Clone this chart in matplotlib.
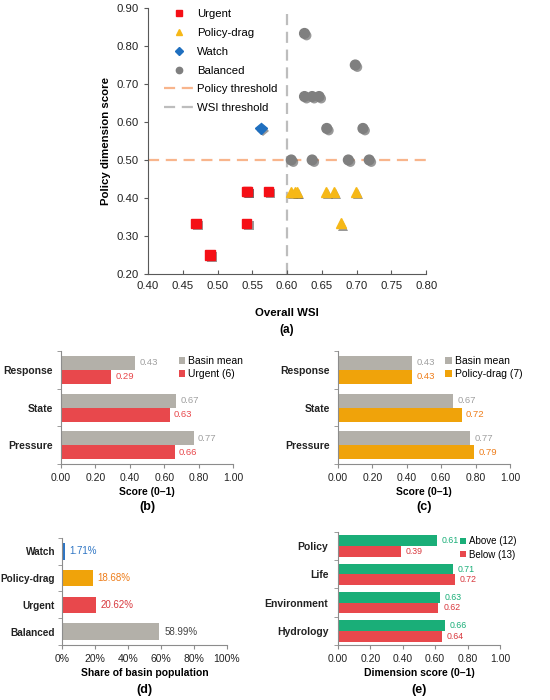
import matplotlib
matplotlib.use("Agg")
import matplotlib.pyplot as plt
import matplotlib.patheffects as pe
from matplotlib.ticker import FixedLocator, PercentFormatter
import numpy as np

plt.rcParams['font.family'] = ['Liberation Sans', 'DejaVu Sans']

# (a) scatter: overall WSI vs policy dimension score
urgent_x = [0.469, 0.489, 0.542, 0.542, 0.543, 0.573]
urgent_y = [0.333, 0.250, 0.333, 0.417, 0.417, 0.417]
drag_x = [0.605, 0.612, 0.614, 0.656, 0.667, 0.699, 0.677]
drag_y = [0.417, 0.417, 0.417, 0.417, 0.417, 0.417, 0.333]
watch_x = [0.562]
watch_y = [0.583]
bal_x = [0.625, 0.698, 0.625, 0.636, 0.646, 0.657, 0.709, 0.606, 0.636, 0.688, 0.718]
bal_y = [0.833, 0.750, 0.667, 0.667, 0.667, 0.583, 0.583, 0.500, 0.500, 0.500, 0.500]
policy_thr = 0.5
wsi_thr = 0.6

# (b), (c) PSR dimensions
psr_cats = ["Pressure", "State", "Response"]
basin_mean = [0.77, 0.67, 0.43]
urgent_psr = [0.66, 0.63, 0.29]
drag_psr = [0.79, 0.72, 0.43]

# (d) population share
pop_cats = ["Balanced", "Urgent", "Policy-drag", "Watch"]
pop_share = [58.99, 20.62, 18.68, 1.71]

# (e) dimensions above / below policy threshold
dim_cats = ["Hydrology", "Environment", "Life", "Policy"]
above = [0.66, 0.63, 0.71, 0.61]
below = [0.64, 0.62, 0.72, 0.39]

RED = "#e8484c"
ORANGE = "#f0a30a"
GREY_BAR = "#b3b0a9"
GREEN = "#1aae78"
BLUE = "#2e75c4"
AXC = "#8c8c8c"

fig = plt.figure(figsize=(5.5, 7), dpi=100)

def style_axes(ax, col=AXC):
    for s in ["top", "right"]:
        ax.spines[s].set_visible(False)
    for s in ["left", "bottom"]:
        ax.spines[s].set_color(col)
        ax.spines[s].set_linewidth(0.8)
    ax.tick_params(colors=col, labelcolor="#222222", length=3, width=0.8)

shadow = [pe.SimplePatchShadow(offset=(1.5, -1.5), shadow_rgbFace="#555555", alpha=0.6), pe.Normal()]

# ---- (a)
ax = fig.add_axes([0.269, 0.6086, 0.506, 0.38])
style_axes(ax, "#595959")
ax.axhline(policy_thr, color="#f8b58c", ls=(0, (5, 3)), lw=1.6, zorder=1, label="Policy threshold")
ax.axvline(wsi_thr, color="#bdbdbd", ls=(0, (5, 3)), lw=1.6, zorder=1, label="WSI threshold")
ax.plot(urgent_x, urgent_y, ls="none", marker="s", ms=6.8, color="#f50f16", label="Urgent", path_effects=shadow, zorder=3)
ax.plot(drag_x, drag_y, ls="none", marker="^", ms=7.2, color="#f6b817", label="Policy-drag", path_effects=shadow, zorder=3)
ax.plot(watch_x, watch_y, ls="none", marker="D", ms=6, color="#1f6fbf", label="Watch", path_effects=shadow, zorder=3)
ax.plot(bal_x, bal_y, ls="none", marker="o", ms=7, color="#7f7f7f", label="Balanced", path_effects=shadow, zorder=3)
ax.set_xlim(0.40, 0.80)
ax.set_ylim(0.20, 0.90)
ax.set_xticks(np.arange(0.40, 0.801, 0.05))
ax.set_yticks(np.arange(0.20, 0.901, 0.10))
ax.xaxis.set_major_formatter(lambda v, p: f"{v:.2f}")
ax.yaxis.set_major_formatter(lambda v, p: f"{v:.2f}")
ax.tick_params(labelsize=8.2)
ax.tick_params(axis="x", direction="in", pad=5)
ax.set_xlabel("Overall WSI", fontsize=8.2, fontweight="bold", labelpad=12)
ax.set_ylabel("Policy dimension score", fontsize=8.2, fontweight="bold")
h, l = ax.get_legend_handles_labels()
order = [2, 3, 4, 5, 0, 1]
leg = ax.legend([h[i] for i in order], [l[i] for i in order], loc="upper left",
                bbox_to_anchor=(0.02, 1.035), frameon=False, fontsize=8.2, markerscale=0.65,
                handlelength=2.6, handletextpad=0.3, labelspacing=0.78)
for lh in leg.legend_handles:
    lh.set_path_effects([])
ax.text(0.5, -0.21, "(a)", transform=ax.transAxes, ha="center", va="center", fontsize=8.5, fontweight="bold")

# ---- (b), (c)
def psr_panel(rect, grp_vals, grp_color, grp_label, lab_color, tag, leg_x):
    ax = fig.add_axes(rect)
    style_axes(ax)
    y = np.arange(len(psr_cats))
    hgt = 0.37
    ax.barh(y + hgt / 2, basin_mean, height=hgt, color=GREY_BAR, label="Basin mean")
    ax.barh(y - hgt / 2, grp_vals, height=hgt, color=grp_color, label=grp_label)
    for yi, v in zip(y, basin_mean):
        ax.text(v + 0.025, yi + hgt / 2, f"{v:.2f}", va="center", fontsize=6.8, color="#a0a0a0")
    for yi, v in zip(y, grp_vals):
        ax.text(v + 0.025, yi - hgt / 2, f"{v:.2f}", va="center", fontsize=6.8, color=lab_color)
    ax.set_ylim(-0.5, 2.5)
    ax.set_xlim(0, 1.0)
    ax.set_yticks(y)
    ax.set_yticklabels(psr_cats, fontsize=7.5, fontweight="bold", color="#222222")
    ax.yaxis.set_minor_locator(FixedLocator(np.arange(-0.5, 2.6, 1.0)))
    ax.tick_params(axis="y", which="major", length=0, pad=6)
    ax.tick_params(axis="y", which="minor", length=3, color=AXC)
    ax.set_xticks(np.arange(0, 1.01, 0.2))
    ax.xaxis.set_major_formatter(lambda v, p: f"{v:.2f}")
    ax.tick_params(axis="x", labelsize=7.5)
    ax.set_xlabel("Score (0\u20131)", fontsize=7.5, fontweight="bold", labelpad=3)
    ax.legend(loc="upper left", bbox_to_anchor=(leg_x, 1.04), frameon=False, fontsize=7.5,
              handlelength=0.6, handleheight=0.6, handletextpad=0.3, labelspacing=0.3)
    ax.text(0.5, -0.38, tag, transform=ax.transAxes, ha="center", va="center", fontsize=9, fontweight="bold")
    return ax

psr_panel([0.111, 0.337, 0.313, 0.1614], urgent_psr, RED, "Urgent (6)", RED, "(b)", 0.63)
psr_panel([0.6145, 0.337, 0.3127, 0.1614], drag_psr, ORANGE, "Policy-drag (7)", "#ee7d1a", "(c)", 0.57)

# ---- (d)
ax = fig.add_axes([0.1127, 0.0786, 0.30, 0.153])
style_axes(ax)
y = np.arange(len(pop_cats))
bar_cols = [GREY_BAR, RED, ORANGE, BLUE]
lab_cols = ["#444444", "#d8383d", "#ee7d1a", BLUE]
ax.barh(y, pop_share, height=0.62, color=bar_cols)
for yi, v, c in zip(y, pop_share, lab_cols):
    ax.text(v + 3, yi, f"{v:.2f}%", va="center", fontsize=7, color=c)
ax.set_ylim(-0.5, 3.5)
ax.set_xlim(0, 100)
ax.set_yticks(y)
ax.set_yticklabels(pop_cats, fontsize=7.2, fontweight="bold", color="#222222")
ax.yaxis.set_minor_locator(FixedLocator(np.arange(-0.5, 3.6, 1.0)))
ax.tick_params(axis="y", which="major", length=0, pad=5)
ax.tick_params(axis="y", which="minor", length=3, color=AXC)
ax.set_xticks(np.arange(0, 101, 20))
ax.xaxis.set_major_formatter(PercentFormatter(decimals=0))
ax.tick_params(axis="x", labelsize=7.5)
ax.set_xlabel("Share of basin population", fontsize=7.5, fontweight="bold", labelpad=3)
ax.text(0.5, -0.42, "(d)", transform=ax.transAxes, ha="center", va="center", fontsize=9, fontweight="bold")

# ---- (e)
ax = fig.add_axes([0.6145, 0.0786, 0.2945, 0.1614])
style_axes(ax)
y = np.arange(len(dim_cats))
hgt = 0.38
ax.barh(y + hgt / 2, above, height=hgt, color=GREEN, label="Above (12)")
ax.barh(y - hgt / 2, below, height=hgt, color=RED, label="Below (13)")
for yi, v in zip(y, above):
    ax.text(v + 0.03, yi + hgt / 2, f"{v:.2f}", va="center", fontsize=6.3, color=GREEN)
for yi, v in zip(y, below):
    ax.text(v + 0.03, yi - hgt / 2, f"{v:.2f}", va="center", fontsize=6.3, color="#d8383d")
ax.set_ylim(-0.5, 3.5)
ax.set_xlim(0, 1.0)
ax.set_yticks(y)
ax.set_yticklabels(dim_cats, fontsize=7.5, fontweight="bold", color="#222222")
ax.yaxis.set_minor_locator(FixedLocator(np.arange(-0.5, 3.6, 1.0)))
ax.tick_params(axis="y", which="major", length=0, pad=7)
ax.tick_params(axis="y", which="minor", length=3, color=AXC)
ax.set_xticks(np.arange(0, 1.01, 0.2))
ax.xaxis.set_major_formatter(lambda v, p: f"{v:.2f}")
ax.tick_params(axis="x", labelsize=7.5)
ax.set_xlabel("Dimension score (0\u20131)", fontsize=7.5, fontweight="bold", labelpad=3)
ax.legend(loc="upper left", bbox_to_anchor=(0.70, 1.04), frameon=False, fontsize=7,
          handlelength=0.6, handleheight=0.6, handletextpad=0.3, labelspacing=0.35)
ax.text(0.5, -0.4, "(e)", transform=ax.transAxes, ha="center", va="center", fontsize=9, fontweight="bold")

fig.savefig("out.png", dpi=100)
